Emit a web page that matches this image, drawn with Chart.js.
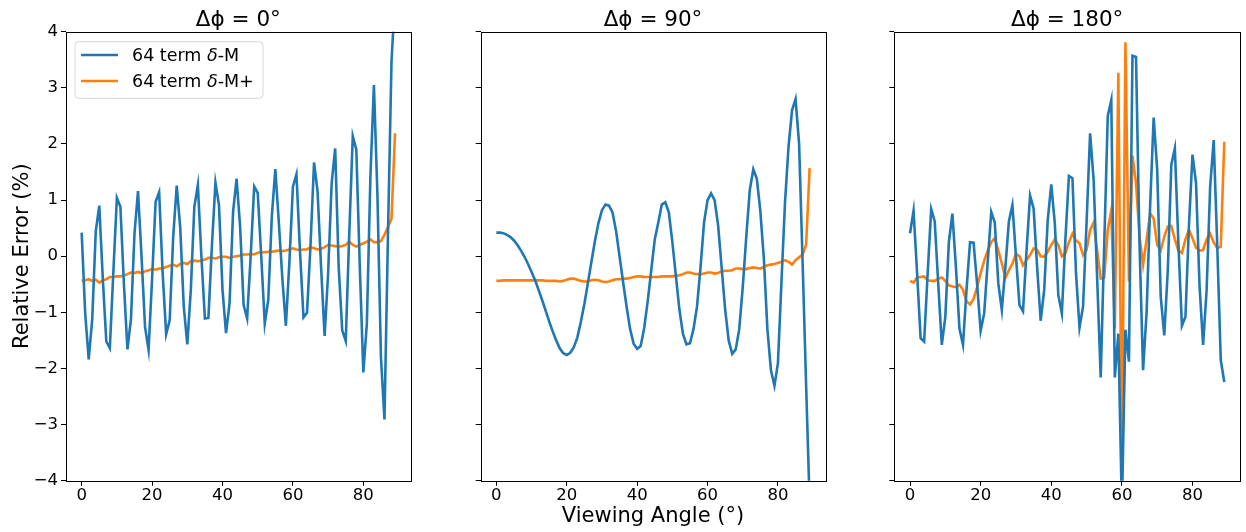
<!DOCTYPE html>
<html>
<head>
<meta charset="utf-8">
<script src="https://cdn.jsdelivr.net/npm/chart.js@4.4.1/dist/chart.umd.min.js"></script>
<style>
  body { margin: 0; background: #fff; }
  #wrap { position: relative; width: 1246px; height: 532px; }
  canvas { position: absolute; top: 0; }
</style>
</head>
<body>
<div id="wrap">
  <canvas id="p0" width="416" height="532" style="left:0px"></canvas>
  <canvas id="p90" width="400" height="532" style="left:430px"></canvas>
  <canvas id="p180" width="402" height="532" style="left:844px"></canvas>
</div>
<script>
// viewing angles (deg)
const angles = [
  0, 1, 2, 3, 4, 5, 6, 7, 8, 9, 10, 11, 12, 13, 14, 15, 16, 17, 18, 19,
  20, 21, 22, 23, 24, 25, 26, 27, 28, 29, 30, 31, 32, 33, 34, 35, 36, 37, 38, 39,
  40, 41, 42, 43, 44, 45, 46, 47, 48, 49, 50, 51, 52, 53, 54, 55, 56, 57, 58, 59,
  60, 61, 62, 63, 64, 65, 66, 67, 68, 69, 70, 71, 72, 73, 74, 75, 76, 77, 78, 79,
  80, 81, 82, 83, 84, 85, 86, 87, 88, 89
];
const xTicks = [0, 20, 40, 60, 80];
const yTicks = [-4, -3, -2, -1, 0, 1, 2, 3, 4];
const seriesNames = ["64 term δ-M", "64 term δ-M+"];
const panelTitles = ["Δϕ = 0°", "Δϕ = 90°", "Δϕ = 180°"];

// dphi = 0
const dm0 = [
  0.42, -1.02, -1.84, -1.12, 0.44, 0.90, -0.40, -1.52, -1.64, -0.28,
  1.04, 0.88, -0.50, -1.66, -1.12, 0.40, 1.16, 0.00, -1.26, -1.67,
  -0.40, 0.97, 1.14, -0.30, -1.39, -1.14, 0.35, 1.26, 0.50, -0.90,
  -1.57, -0.60, 0.88, 1.27, 0.00, -1.11, -1.10, 0.20, 1.31, 0.91,
  -0.60, -1.37, -0.84, 0.79, 1.38, 0.53, -0.87, -1.11, 0.00, 1.24,
  1.13, 0.00, -1.20, -0.78, 0.70, 1.55, 0.60, -0.40, -1.24, -0.10,
  1.24, 1.46, 0.10, -1.09, -1.01, 0.20, 1.67, 1.15, -0.20, -1.42,
  -0.30, 1.30, 1.92, -0.20, -1.32, -1.51, 0.40, 2.14, 1.90, -0.20,
  -2.07, -1.20, 1.40, 3.05, 1.10, -1.80, -2.91, 0.40, 3.48, 4.60
];
const dmPlus0 = [
  -0.44, -0.43, -0.41, -0.44, -0.42, -0.47, -0.43, -0.41, -0.37, -0.37,
  -0.36, -0.36, -0.35, -0.32, -0.29, -0.30, -0.28, -0.30, -0.27, -0.25,
  -0.23, -0.24, -0.22, -0.22, -0.19, -0.17, -0.15, -0.18, -0.14, -0.12,
  -0.14, -0.09, -0.08, -0.09, -0.08, -0.06, -0.03, -0.03, -0.04, -0.02,
  -0.01, -0.01, -0.03, -0.01, 0.00, 0.01, 0.03, 0.03, 0.04, 0.03,
  0.06, 0.07, 0.07, 0.08, 0.08, 0.09, 0.10, 0.09, 0.10, 0.12,
  0.14, 0.12, 0.11, 0.12, 0.12, 0.16, 0.14, 0.12, 0.13, 0.16,
  0.20, 0.19, 0.18, 0.17, 0.18, 0.20, 0.26, 0.20, 0.17, 0.20,
  0.23, 0.26, 0.30, 0.25, 0.25, 0.27, 0.38, 0.52, 0.67, 2.19
];

// dphi = 90
const dm90 = [
  0.42, 0.42, 0.41, 0.38, 0.34, 0.28, 0.20, 0.10, -0.01, -0.14,
  -0.28, -0.43, -0.60, -0.78, -0.97, -1.16, -1.34, -1.50, -1.64, -1.73,
  -1.76, -1.72, -1.62, -1.45, -1.17, -0.85, -0.48, -0.10, 0.27, 0.59,
  0.82, 0.92, 0.90, 0.78, 0.45, 0.00, -0.46, -0.90, -1.30, -1.56,
  -1.65, -1.60, -1.28, -0.80, -0.25, 0.30, 0.60, 0.92, 0.96, 0.78,
  0.25, -0.35, -0.95, -1.38, -1.57, -1.55, -1.30, -0.90, -0.20, 0.60,
  1.00, 1.12, 1.00, 0.55, -0.20, -0.95, -1.50, -1.74, -1.66, -1.30,
  -0.55, 0.35, 1.18, 1.55, 1.38, 0.80, -0.05, -1.30, -2.03, -2.31,
  -1.90, -0.45, 0.95, 1.95, 2.60, 2.80, 2.01, -0.10, -2.30, -4.40
];
const dmPlus90 = [
  -0.44, -0.44, -0.43, -0.43, -0.43, -0.43, -0.43, -0.43, -0.43, -0.43,
  -0.43, -0.43, -0.43, -0.43, -0.44, -0.44, -0.44, -0.44, -0.45, -0.44,
  -0.42, -0.40, -0.40, -0.42, -0.44, -0.45, -0.45, -0.43, -0.42, -0.43,
  -0.45, -0.46, -0.45, -0.43, -0.41, -0.41, -0.40, -0.40, -0.39, -0.37,
  -0.36, -0.36, -0.37, -0.37, -0.37, -0.37, -0.37, -0.36, -0.36, -0.36,
  -0.36, -0.35, -0.34, -0.32, -0.29, -0.29, -0.31, -0.32, -0.32, -0.31,
  -0.29, -0.29, -0.31, -0.30, -0.27, -0.26, -0.26, -0.25, -0.22, -0.22,
  -0.23, -0.23, -0.21, -0.20, -0.21, -0.22, -0.19, -0.16, -0.15, -0.14,
  -0.12, -0.10, -0.07, -0.10, -0.15, -0.07, -0.02, 0.03, 0.20, 1.57
];

// dphi = 180
const dm180 = [
  0.41, 0.81, -0.30, -1.46, -1.52, -0.30, 0.84, 0.62, -0.50, -1.58,
  -1.08, 0.25, 0.76, -0.20, -1.29, -1.58, -0.60, 0.25, 0.24, -0.50,
  -1.33, -1.02, -0.10, 0.79, 0.60, -0.48, -0.96, -0.20, 0.62, 0.91,
  0.00, -0.87, -0.98, 0.10, 1.08, 0.85, -0.20, -1.15, -0.60, 0.64,
  1.28, 0.59, -0.69, -1.02, 0.30, 1.43, 1.39, -0.30, -1.27, -0.90,
  0.60, 2.19, 1.36, -0.40, -2.16, 0.20, 2.50, 2.78, -2.16, -1.38,
  -4.50, -1.31, -1.88, 3.57, 3.55, 0.20, -2.03, -1.00, 0.90, 2.47,
  1.54, -0.72, -1.41, -0.25, 1.63, 1.92, 0.23, -1.24, -1.08, 0.56,
  1.81, 1.30, -0.54, -1.58, -0.60, 1.24, 2.07, 0.20, -1.85, -2.24
];
const dmPlus180 = [
  -0.44, -0.47, -0.38, -0.37, -0.36, -0.43, -0.44, -0.44, -0.40, -0.38,
  -0.44, -0.52, -0.54, -0.55, -0.51, -0.60, -0.80, -0.86, -0.76, -0.55,
  -0.30, -0.08, 0.10, 0.25, 0.32, 0.10, -0.13, -0.39, -0.25, -0.13,
  0.04, 0.00, -0.16, -0.07, 0.02, 0.14, 0.11, 0.00, -0.01, 0.08,
  0.20, 0.30, 0.20, 0.00, 0.05, 0.25, 0.40, 0.28, 0.23, 0.02,
  0.11, 0.47, 0.60, 0.10, -0.40, -0.38, 0.47, 0.82, -1.29, 3.27,
  -3.84, 3.81, -0.45, 1.79, 1.30, 0.35, -0.15, 0.30, 0.76, 0.67,
  0.20, 0.10, 0.35, 0.53, 0.54, 0.30, 0.10, 0.06, 0.30, 0.47,
  0.32, 0.15, 0.10, 0.11, 0.30, 0.40, 0.25, 0.14, 0.17, 2.04
];

const FONT = '"DejaVu Sans", sans-serif';
const BLUE = "#1f77b4";
const ORANGE = "#ff7f0e";
const LW = 2.6;

const pts = vals => vals.map((v, i) => ({ x: angles[i], y: v }));
const minus = v => (v < 0 ? "\u2212" + Math.abs(v) : String(v));

// box round the plot, like matplotlib spines
const spines = {
  id: "spines",
  afterDatasetsDraw(chart) {
    const a = chart.chartArea;
    const ctx = chart.ctx;
    ctx.save();
    ctx.strokeStyle = "#000";
    ctx.lineWidth = 1;
    ctx.strokeRect(Math.round(a.left) + 0.5, Math.round(a.top) + 0.5,
      Math.round(a.right - a.left), Math.round(a.bottom - a.top));
    ctx.restore();
  }
};

// legend box in the upper left corner (first panel)
const cornerLegend = {
  id: "cornerLegend",
  afterDraw(chart) {
    const a = chart.chartArea;
    const ctx = chart.ctx;
    const x = a.left + 9, y = a.top + 10, w = 188, h = 56.6, r = 4;
    ctx.save();
    ctx.beginPath();
    ctx.roundRect(x, y, w, h, r);
    ctx.fillStyle = "rgba(255,255,255,0.8)";
    ctx.fill();
    ctx.strokeStyle = "#d6d6d6";
    ctx.lineWidth = 1;
    ctx.stroke();
    chart.data.datasets.forEach((ds, i) => {
      const ly = a.top + 23.3 + i * 26;
      ctx.beginPath();
      ctx.moveTo(a.left + 15, ly);
      ctx.lineTo(a.left + 52, ly);
      ctx.strokeStyle = ds.borderColor;
      ctx.lineWidth = LW;
      ctx.stroke();
      // split the label so the delta is italic
      const k = ds.label.indexOf("δ");
      const parts = [
        [ds.label.slice(0, k), ""],
        ["δ", "italic "],
        [ds.label.slice(k + 1), ""]
      ];
      let tx = a.left + 66;
      ctx.fillStyle = "#000";
      ctx.textBaseline = "middle";
      parts.forEach(([s, style]) => {
        ctx.font = style + "17.5px " + FONT;
        ctx.fillText(s, tx, ly + 1);
        tx += ctx.measureText(s).width;
      });
    });
    ctx.restore();
  }
};

function panel(id, title, blue, orange, o) {
  const ctx = document.getElementById(id).getContext("2d");
  const plugins = [spines];
  if (o.legend) plugins.push(cornerLegend);
  return new Chart(ctx, {
    type: "line",
    data: {
      datasets: [
        { label: seriesNames[0], data: pts(blue), borderColor: BLUE, borderWidth: LW, pointRadius: 0, tension: 0 },
        { label: seriesNames[1], data: pts(orange), borderColor: ORANGE, borderWidth: LW, pointRadius: 0, tension: 0 }
      ]
    },
    options: {
      responsive: false,
      animation: false,
      layout: { padding: { left: 0, right: o.padRight, top: 0, bottom: 0 } },
      plugins: {
        legend: { display: false },
        tooltip: { enabled: false },
        title: {
          display: true,
          text: title,
          fullSize: false,
          color: "#000",
          font: { family: FONT, size: 21.5, weight: "normal", lineHeight: 1 },
          padding: { top: 9.2, bottom: 1 }
        }
      },
      scales: {
        x: {
          type: "linear",
          min: -4.45,
          max: 93.45,
          afterBuildTicks: s => { s.ticks = xTicks.map(v => ({ value: v })); },
          afterFit: s => { s.height = 51.3; },
          grid: { drawOnChartArea: false, drawTicks: true, tickLength: 5, color: "#000" },
          border: { display: false },
          ticks: { color: "#000", padding: 0, maxRotation: 0, font: { family: FONT, size: 16.5 } },
          title: {
            display: !!o.xTitle,
            text: o.xTitle || "",
            color: "#000",
            font: { family: FONT, size: 21 },
            padding: { top: 0, bottom: 3 }
          }
        },
        y: {
          type: "linear",
          min: -4,
          max: 4,
          afterBuildTicks: s => { s.ticks = yTicks.map(v => ({ value: v })); },
          afterFit: s => { s.width = o.yWidth; },
          grid: { drawOnChartArea: false, drawTicks: true, tickLength: 5, color: "#000" },
          border: { display: false },
          ticks: {
            color: "#000",
            padding: 3,
            font: { family: FONT, size: 16.5 },
            callback: v => (o.yLabels ? minus(v) : "")
          },
          title: {
            display: !!o.yTitle,
            text: o.yTitle || "",
            color: "#000",
            font: { family: FONT, size: 21 },
            padding: { top: 10, bottom: 0 }
          }
        }
      }
    },
    plugins: plugins
  });
}

panel("p0", panelTitles[0], dm0, dmPlus0,
  { yWidth: 66, padRight: 5.3, yLabels: true, yTitle: "Relative Error (%)", legend: true });
panel("p90", panelTitles[1], dm90, dmPlus90,
  { yWidth: 50.7, padRight: 4.7, yLabels: false, xTitle: "Viewing Angle (°)" });
panel("p180", panelTitles[2], dm180, dmPlus180,
  { yWidth: 50.3, padRight: 6, yLabels: false });
</script>
</body>
</html>
